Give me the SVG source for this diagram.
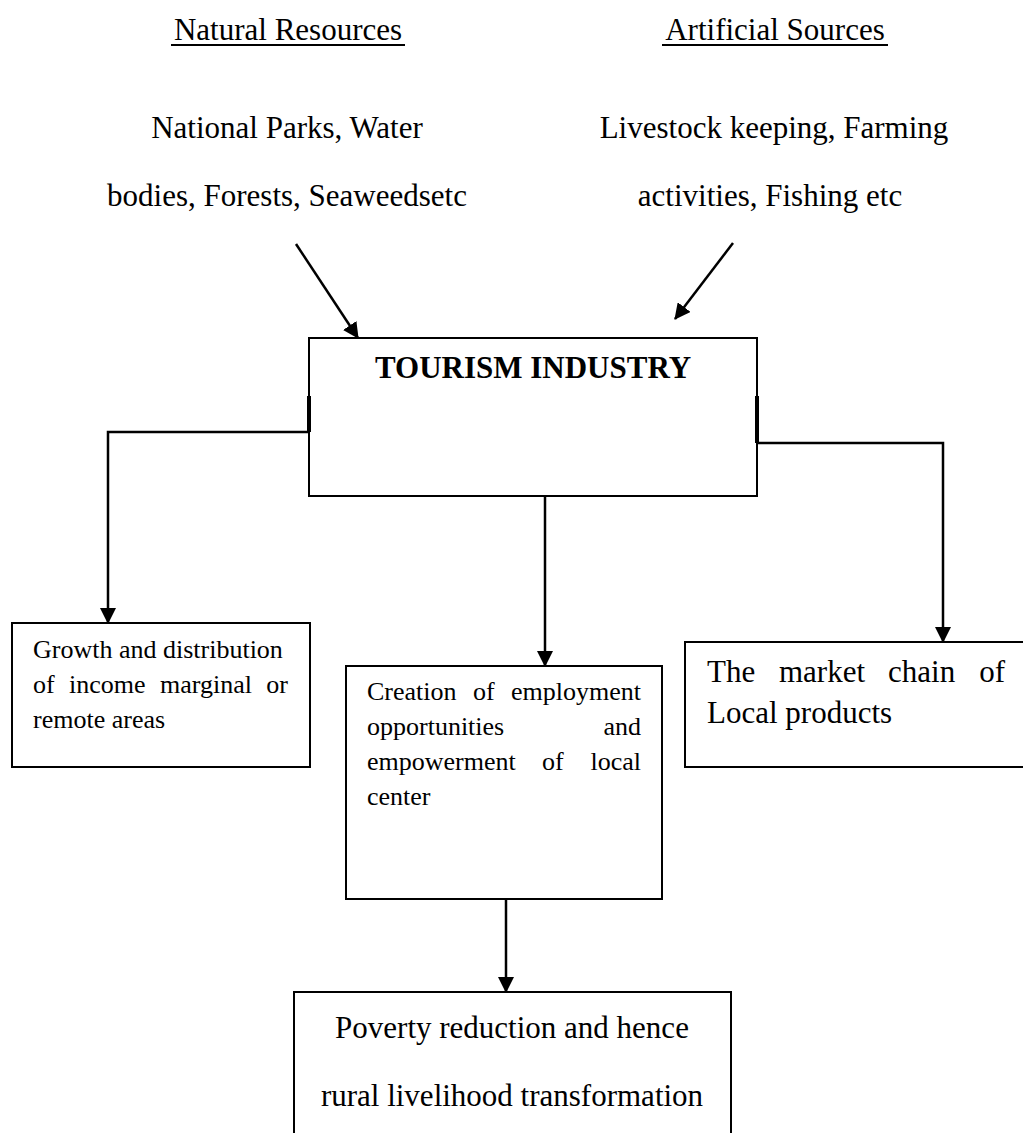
<svg xmlns="http://www.w3.org/2000/svg" width="1023" height="1133" viewBox="0 0 1023 1133">
<style>
text{font-family:"Liberation Serif","Times New Roman",serif;fill:#000}
.t31{font-size:31px}
.t26{font-size:26px}
.b{font-weight:bold}
.box{fill:#fff;stroke:#000;stroke-width:2}
.con{fill:none;stroke:#000;stroke-width:2.5}
.thick{fill:none;stroke:#000;stroke-width:4}
</style>
<defs>
<marker id="ah" markerUnits="userSpaceOnUse" markerWidth="16" markerHeight="16" refX="15" refY="8" orient="auto" viewBox="0 0 16 16">
<path d="M0,0 L16,8 L0,16 z" fill="#000"/>
</marker>
</defs>
<rect width="1023" height="1133" fill="#fff"/>

<g id="header-natural">
<text class="t31" x="288" y="40" text-anchor="middle">Natural Resources</text>
<line x1="171" y1="45" x2="405" y2="45" stroke="#000" stroke-width="2"/>
</g>
<g id="header-artificial">
<text class="t31" x="775" y="40" text-anchor="middle">Artificial Sources</text>
<line x1="662" y1="45" x2="888" y2="45" stroke="#000" stroke-width="2"/>
</g>

<g id="natural-list">
<text class="t31" x="287" y="138" text-anchor="middle">National Parks, Water</text>
<text class="t31" x="287" y="206" text-anchor="middle">bodies, Forests, Seaweedsetc</text>
</g>
<g id="artificial-list">
<text class="t31" x="774" y="138" text-anchor="middle">Livestock keeping, Farming</text>
<text class="t31" x="770" y="206" text-anchor="middle">activities, Fishing etc</text>
</g>

<g id="tourism">
<rect class="box" x="309" y="338" width="448" height="158"/>
<text class="t31 b" x="533" y="378" text-anchor="middle">TOURISM INDUSTRY</text>
</g>

<g id="growth">
<rect class="box" x="12" y="623" width="298" height="144"/>
<text class="t26" x="33" y="658">Growth and distribution</text>
<text class="t26" y="693"><tspan x="33">of</tspan><tspan x="69">income</tspan><tspan x="160">marginal</tspan></text>
<text class="t26" x="288" y="693" text-anchor="end">or</text>
<text class="t26" x="33" y="728">remote areas</text>
</g>

<g id="employment">
<rect class="box" x="346" y="666" width="316" height="233"/>
<text class="t26" y="700"><tspan x="367">Creation</tspan><tspan x="473">of</tspan></text>
<text class="t26" x="641" y="700" text-anchor="end">employment</text>
<text class="t26" x="367" y="735">opportunities</text>
<text class="t26" x="641" y="735" text-anchor="end">and</text>
<text class="t26" y="770"><tspan x="367">empowerment</tspan><tspan x="542">of</tspan></text>
<text class="t26" x="641" y="770" text-anchor="end">local</text>
<text class="t26" x="367" y="805">center</text>
</g>

<g id="market">
<rect class="box" x="685" y="642" width="350" height="125"/>
<text class="t31" y="682"><tspan x="707">The</tspan><tspan x="779">market</tspan><tspan x="888">chain</tspan></text>
<text class="t31" x="1005" y="682" text-anchor="end">of</text>
<text class="t31" x="707" y="723">Local products</text>
</g>

<g id="poverty">
<rect class="box" x="294" y="992" width="437" height="160"/>
<text class="t31" x="512" y="1038" text-anchor="middle">Poverty reduction and hence</text>
<text class="t31" x="512" y="1106" text-anchor="middle">rural livelihood transformation</text>
</g>

<g id="connectors">
<line class="con" x1="296" y1="244" x2="358" y2="338" marker-end="url(#ah)"/>
<line class="con" x1="733" y1="243" x2="675" y2="319" marker-end="url(#ah)"/>
<line class="thick" x1="309" y1="396" x2="309" y2="432"/>
<polyline class="con" points="309,432 108,432 108,623" marker-end="url(#ah)"/>
<line class="thick" x1="757" y1="396" x2="757" y2="443"/>
<polyline class="con" points="757,443 943,443 943,642" marker-end="url(#ah)"/>
<line class="con" x1="545" y1="496" x2="545" y2="666" marker-end="url(#ah)"/>
<line class="con" x1="506" y1="899" x2="506" y2="992" marker-end="url(#ah)"/>
</g>
</svg>
